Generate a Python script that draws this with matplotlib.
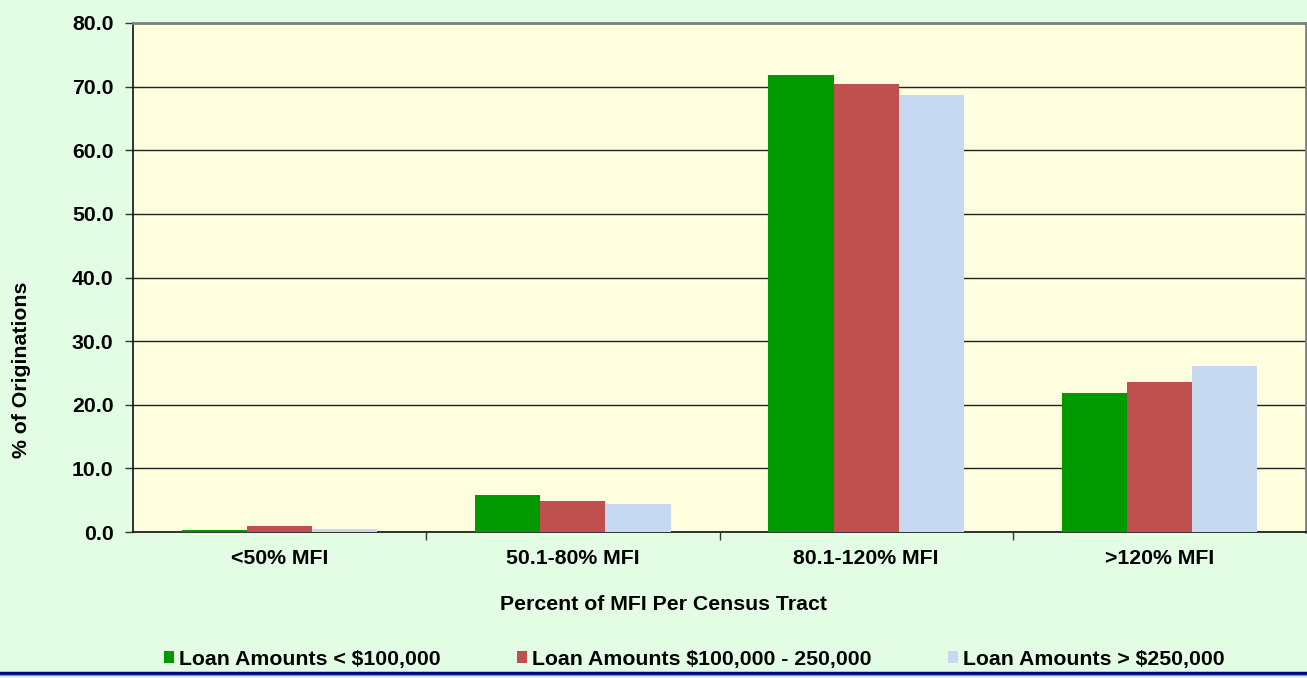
import numpy as np
import matplotlib.pyplot as plt
from matplotlib.lines import Line2D

plt.rcParams['font.family'] = ['Liberation Sans', 'DejaVu Sans']
plt.rcParams['font.weight'] = 'bold'

categories = ['<50% MFI', '50.1-80% MFI', '80.1-120% MFI', '>120% MFI']
series_names = ['Loan Amounts < $100,000', 'Loan Amounts $100,000 - 250,000', 'Loan Amounts > $250,000']
under_100k = [0.3, 5.8, 71.8, 21.8]
mid_100_250k = [0.9, 4.8, 70.4, 23.6]
over_250k = [0.4, 4.4, 68.7, 26.1]
colors = ['#009900', '#C0504D', '#C6D9F1']
yticks = [0, 10, 20, 30, 40, 50, 60, 70, 80]

fs = 15.3

fig = plt.figure(figsize=(13.07, 6.78), dpi=100, facecolor='#E3FDE5')
ax = fig.add_axes([133/1307, (678-532)/678, 1173/1307, 509/678])
ax.set_facecolor('#FFFFE0')

x = np.arange(len(categories))
w = 0.222
for i, (vals, name) in enumerate(zip([under_100k, mid_100_250k, over_250k], series_names)):
    ax.bar(x + (i - 1) * w, vals, w, color=colors[i], label=name, zorder=3)

ax.set_xlim(-0.5, 3.5)
ax.set_ylim(0, 80)
ax.set_yticks(yticks)
ax.set_yticklabels([f'{v:.1f}' for v in yticks], fontsize=fs, fontweight='bold')
ax.yaxis.grid(True, color='#222222', linewidth=1.0, zorder=1)
ax.set_xticks(x)
ax.set_xticklabels(categories, fontsize=fs, fontweight='bold')
ax.set_xticks([0.5, 1.5, 2.5], minor=True)
ax.tick_params(axis='x', which='major', length=0, pad=12)
ax.tick_params(axis='x', which='minor', length=6, width=1, color='#333333')
ax.tick_params(axis='y', length=6, width=1, color='#333333', pad=8)

for s in ['top', 'right']:
    ax.spines[s].set_color('#808080')
    ax.spines[s].set_linewidth(2)
ax.spines['left'].set_color('#111111')
ax.spines['bottom'].set_color('#111111')
ax.spines['left'].set_linewidth(1.2)
ax.spines['bottom'].set_linewidth(1.2)

fig.text(22/1307, 1 - 370/678, '% of Originations', rotation=90, ha='center', va='center',
         fontsize=fs, fontweight='bold')
fig.text(664/1307, 1 - 605/678, 'Percent of MFI Per Census Tract', ha='center', va='center',
         fontsize=fs, fontweight='bold')

leg = fig.legend(loc='center', bbox_to_anchor=(694/1307, 1 - 659/678), ncol=3, frameon=False,
                 handlelength=0.5, handleheight=0.5, handletextpad=0.2,
                 columnspacing=3.6, prop={'weight': 'bold', 'size': fs})

fig.add_artist(Line2D([0, 1], [1 - 672.5/678, 1 - 672.5/678], transform=fig.transFigure,
                      color='#000080', linewidth=2.5))
fig.add_artist(Line2D([0, 1], [1 - 675/678, 1 - 675/678], transform=fig.transFigure,
                      color='#8090D0', linewidth=1))

fig.savefig('out.png', dpi=100, facecolor=fig.get_facecolor())
